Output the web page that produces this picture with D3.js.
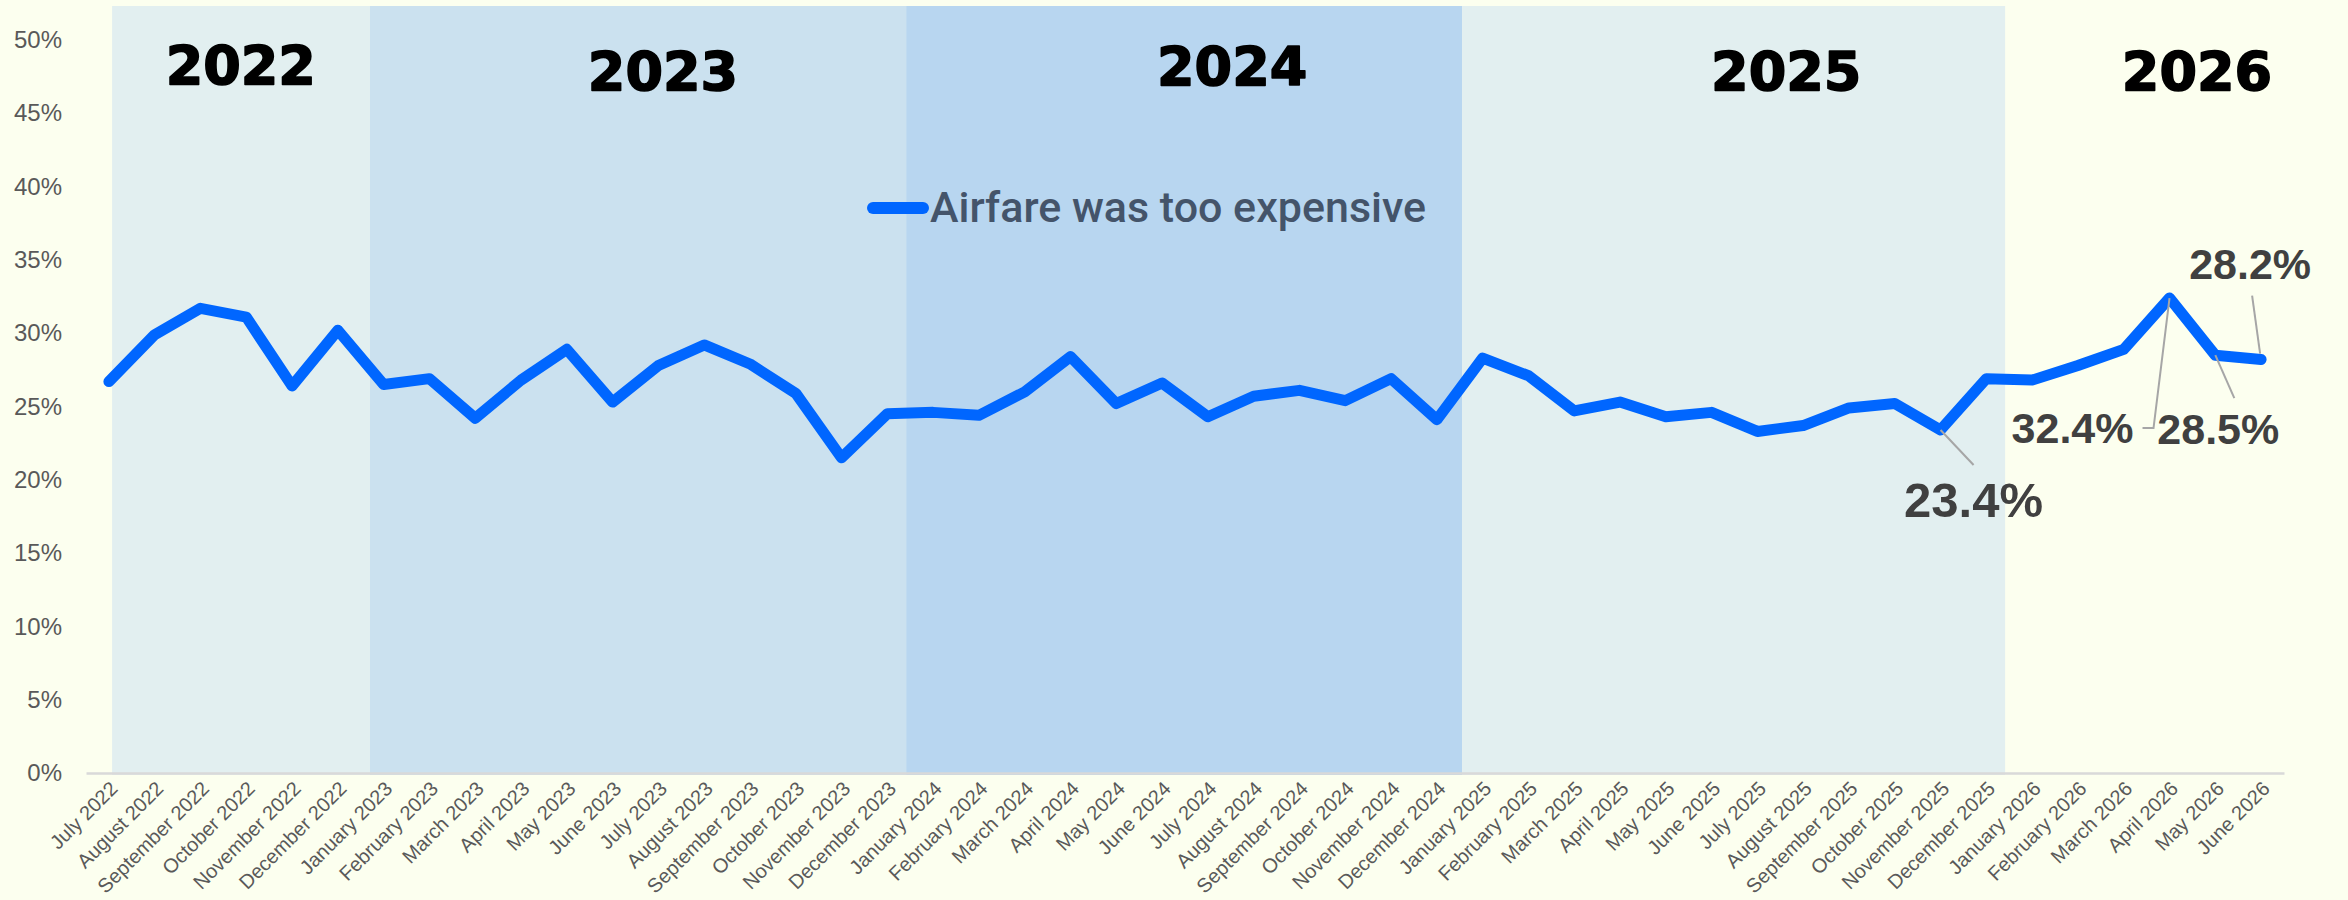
<!DOCTYPE html>
<html>
<head>
<meta charset="utf-8">
<script src="https://cdn.jsdelivr.net/npm/d3@7"></script>
<style>
  html, body { margin: 0; padding: 0; background: #FCFFEF; }
  svg { display: block; }
</style>
</head>
<body>
<svg id="chart" width="2348" height="900"></svg>
<script>
// Monthly share of respondents citing airfare cost
const months = [
  "July 2022", "August 2022", "September 2022", "October 2022", "November 2022", "December 2022",
  "January 2023", "February 2023", "March 2023", "April 2023", "May 2023", "June 2023",
  "July 2023", "August 2023", "September 2023", "October 2023", "November 2023", "December 2023",
  "January 2024", "February 2024", "March 2024", "April 2024", "May 2024", "June 2024",
  "July 2024", "August 2024", "September 2024", "October 2024", "November 2024", "December 2024",
  "January 2025", "February 2025", "March 2025", "April 2025", "May 2025", "June 2025",
  "July 2025", "August 2025", "September 2025", "October 2025", "November 2025", "December 2025",
  "January 2026", "February 2026", "March 2026", "April 2026", "May 2026", "June 2026"
];

const airfareTooExpensive = [
  26.7, 29.9, 31.7, 31.1, 26.4, 30.2,
  26.5, 26.9, 24.2, 26.8, 28.9, 25.3, 27.8, 29.2, 27.9, 25.9, 21.5, 24.5,
  24.6, 24.4, 26.0, 28.4, 25.2, 26.6, 24.3, 25.7, 26.1, 25.4, 26.9, 24.1,
  28.3, 27.1, 24.7, 25.3, 24.3, 24.6, 23.3, 23.7, 24.9, 25.2, 23.4, 26.9,
  26.8, 27.8, 28.9, 32.4, 28.5, 28.2
];

const seriesName = "Airfare was too expensive";

const yTicks = [0, 5, 10, 15, 20, 25, 30, 35, 40, 45, 50];

// Year bands, expressed in month-index units along the time axis
const years = ["2022", "2023", "2024", "2025", "2026"];
const yearBandFrom = [0.07, 5.70, 17.41, 29.55];
const yearBandTo   = [5.70, 17.41, 29.55, 41.41];
const yearLabelAt  = [2.88, 12.10, 24.53, 36.63, 45.60];
const yearLabelLevel = [47.0, 46.6, 46.9, 46.6, 46.6];

// Months whose values are called out
const calloutMonths = ["November 2025", "April 2026", "May 2026", "June 2026"];

// ---- layout ----
const W = 2348, H = 900;
const plot = { left: 86, right: 2284, top: 6, bottom: 773 };
const bandColors = ["#E2EFF0", "#CBE1EF", "#B8D6F0", "#E2EFF0"];
const lineColor = "#0066FF";
const svg = d3.select("#chart");

const x = d3.scaleBand().domain(months).range([plot.left, plot.right]).paddingInner(0).paddingOuter(0);
const xIdx = d3.scaleLinear().domain([-0.5, months.length - 0.5]).range([plot.left, plot.right]);
const y = d3.scaleLinear().domain([0, 50]).range([plot.bottom, 40]);
const cx = m => x(m) + x.bandwidth() / 2;

svg.append("rect").attr("width", W).attr("height", H).attr("fill", "#FCFFEF");

// background year bands
svg.append("g").selectAll("rect")
  .data(yearBandFrom.map((f, i) => ({ from: f, to: yearBandTo[i], color: bandColors[i] })))
  .join("rect")
  .attr("x", d => xIdx(d.from))
  .attr("width", d => xIdx(d.to) - xIdx(d.from))
  .attr("y", plot.top)
  .attr("height", plot.bottom - plot.top + 2)
  .attr("fill", d => d.color);

// year headings
svg.append("g").selectAll("text")
  .data(years.map((yr, i) => ({ yr, at: yearLabelAt[i], lvl: yearLabelLevel[i] })))
  .join("text")
  .attr("x", d => xIdx(d.at))
  .attr("y", d => y(d.lvl))
  .attr("text-anchor", "middle")
  .attr("font-family", "DejaVu Sans, sans-serif")
  .attr("font-weight", "bold")
  .attr("font-size", 54)
  .attr("fill", "#000")
  .attr("stroke", "#000")
  .attr("stroke-width", 1.6)
  .attr("stroke-linejoin", "round")
  .text(d => d.yr);

// y axis
const yAxis = svg.append("g")
  .attr("transform", `translate(${plot.left},0)`)
  .call(d3.axisLeft(y).tickValues(yTicks).tickFormat(d => d + "%").tickSize(0).tickPadding(24));
yAxis.select(".domain").remove();
yAxis.selectAll("text")
  .attr("font-family", "Liberation Sans, Arial, sans-serif")
  .attr("font-size", 24)
  .attr("fill", "#595959");

// x axis
const xAxis = svg.append("g")
  .attr("transform", `translate(0,${plot.bottom})`)
  .call(d3.axisBottom(x).tickSize(0).tickPadding(0));
xAxis.select(".domain").attr("stroke", "#D9D9D9").attr("stroke-width", 2.5);
xAxis.selectAll(".tick text")
  .attr("font-family", "Liberation Sans, Arial, sans-serif")
  .attr("font-size", 20)
  .attr("fill", "#595959")
  .attr("text-anchor", "end")
  .attr("dominant-baseline", "central")
  .attr("dy", null)
  .attr("y", 0)
  .attr("transform", "translate(5,12) rotate(-45)");

// series line
const pts = months.map((m, i) => ({ m, v: airfareTooExpensive[i] }));
svg.append("path")
  .datum(pts)
  .attr("fill", "none")
  .attr("stroke", lineColor)
  .attr("stroke-width", 11)
  .attr("stroke-linejoin", "round")
  .attr("stroke-linecap", "round")
  .attr("d", d3.line().x(d => cx(d.m)).y(d => y(d.v)));

// legend
const legend = svg.append("g").attr("transform", "translate(873,208)");
legend.append("line")
  .attr("x1", 0).attr("x2", 50).attr("y1", 0).attr("y2", 0)
  .attr("stroke", lineColor).attr("stroke-width", 12).attr("stroke-linecap", "round");
legend.append("text")
  .attr("x", 57).attr("y", 14)
  .attr("font-family", "Roboto, sans-serif")
  .attr("font-weight", 500)
  .attr("font-size", 43)
  .attr("fill", "#44546A")
  .text(seriesName);

// callouts: label offset from the point and the leader path (offsets in px)
const calloutLayout = {
  "November 2025": { dx: 33, dy: 87, size: 49, leader: [[0, 0], [33, 35]] },
  "April 2026":    { dx: -97, dy: 145, size: 43, leader: [[0, 0], [-16, 130], [-27, 130]] },
  "May 2026":      { dx: 3, dy: 89, size: 43, leader: [[0, 0], [19, 43]] },
  "June 2026":     { dx: -11, dy: -81, size: 43, leader: [[-1, -6], [-9, -64]] }
};
const fmt = d3.format(".1f");
const callouts = svg.append("g");
calloutMonths.forEach(m => {
  const i = months.indexOf(m);
  const v = airfareTooExpensive[i];
  const px = cx(m), py = y(v);
  const L = calloutLayout[m];
  callouts.append("path")
    .attr("d", d3.line()(L.leader.map(([a, b]) => [px + a, py + b])))
    .attr("fill", "none")
    .attr("stroke", "#A6A6A6")
    .attr("stroke-width", 2);
  callouts.append("text")
    .attr("x", px + L.dx)
    .attr("y", py + L.dy)
    .attr("text-anchor", "middle")
    .attr("font-family", "Liberation Sans, Arial, sans-serif")
    .attr("font-weight", "bold")
    .attr("font-size", L.size)
    .attr("fill", "#404040")
    .text(fmt(v) + "%");
});
</script>
</body>
</html>
